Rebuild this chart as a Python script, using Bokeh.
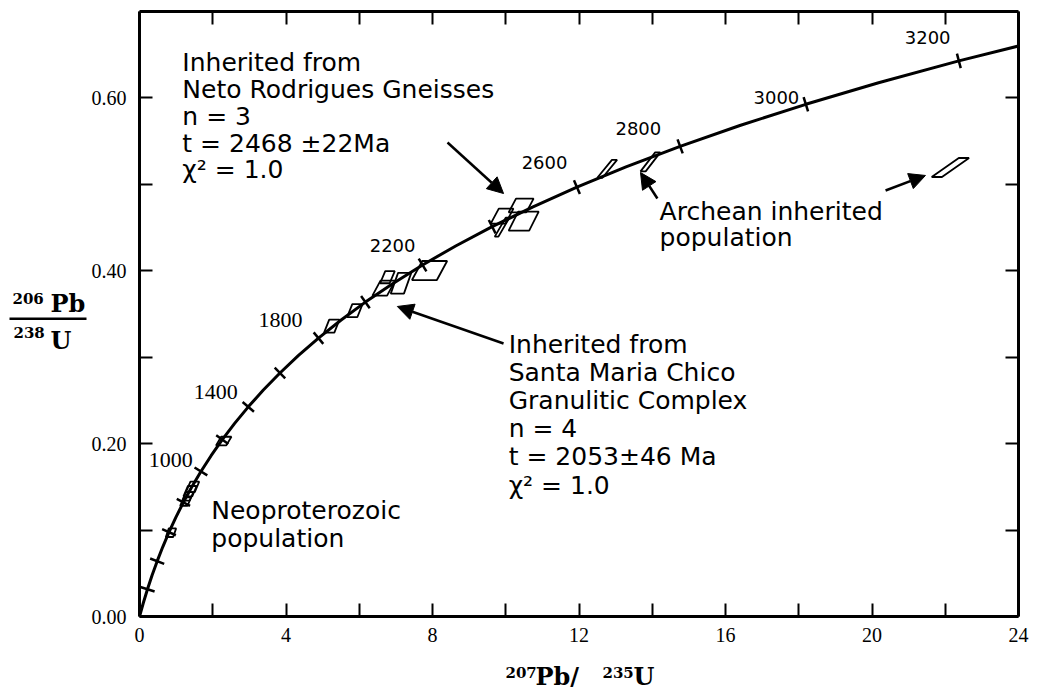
import math
from bokeh.plotting import figure
from bokeh.layouts import row, column
from bokeh.models import (LinearAxis, FixedTicker, Label, Arrow, NormalHead,
                          Range1d, CustomJSTickFormatter)
from bokeh.embed import file_html
from bokeh.resources import INLINE

# ---------------- data ----------------
# concordia curve (age in Ma, 207Pb/235U, 206Pb/238U)
conc_age = [0, 100, 200, 300, 400, 500, 600, 700, 800, 900, 1000, 1100, 1200, 1300,
            1400, 1500, 1600, 1700, 1800, 1900, 2000, 2100, 2200, 2300, 2400, 2500,
            2600, 2700, 2800, 2900, 3000, 3100, 3200, 3300]
conc_x = [0.0, 0.1035, 0.2177, 0.3437, 0.4828, 0.6363, 0.8056, 0.9925, 1.1987, 1.4263,
          1.6774, 1.9545, 2.2604, 2.5977, 2.9702, 3.3810, 3.8348, 4.3348, 4.8866, 5.4962,
          6.1679, 6.9105, 7.7286, 8.6326, 9.6294, 10.7297, 11.9431, 13.2833, 14.7610,
          16.3929, 18.1934, 20.1795, 22.3710, 24.79]
conc_y = [0.0, 0.01563, 0.03151, 0.04764, 0.06402, 0.08065, 0.09754, 0.11470, 0.13213,
          0.14983, 0.16781, 0.18606, 0.20460, 0.22343, 0.24256, 0.26199, 0.28172, 0.30175,
          0.32211, 0.34277, 0.36377, 0.38509, 0.40673, 0.42873, 0.45104, 0.47375, 0.49674,
          0.52019, 0.54396, 0.56810, 0.59262, 0.61751, 0.64282, 0.66848]

tick_ages = [200, 400, 600, 800, 1000, 1200, 1400, 1600, 1800, 2000, 2200, 2400,
             2600, 2800, 3000, 3200]

age_labels = ["1000", "1400", "1800", "2200", "2600", "2800", "3000", "3200"]
age_label_x = [0.85, 2.08, 3.85, 6.91, 11.06, 13.62, 17.39, 21.52]
age_label_y = [0.1805, 0.2592, 0.3425, 0.4293, 0.5253, 0.5646, 0.6005, 0.6699]
age_label_serif = [True, True, True, False, False, False, False, False]

# analyses: centre, half-width, half-height, skew of the error parallelograms
pg_x = [1.26, 1.32, 1.38, 1.45, 0.86, 2.30, 5.25, 5.88, 6.67, 6.77, 7.14, 7.92,
        9.90, 10.42, 10.49, 9.90, 12.77, 13.95, 22.14]
pg_y = [0.133, 0.139, 0.145, 0.150, 0.097, 0.203, 0.336, 0.354, 0.380, 0.3926, 0.3856, 0.4003,
        0.4632, 0.4755, 0.4574, 0.4505, 0.518, 0.526, 0.5195]
pg_hw = [0.10, 0.10, 0.12, 0.12, 0.10, 0.14, 0.14, 0.14, 0.20, 0.13, 0.18, 0.34,
         0.20, 0.24, 0.28, 0.05, 0.07, 0.07, 0.14]
pg_hh = [0.005, 0.005, 0.006, 0.006, 0.005, 0.005, 0.0075, 0.0075, 0.0087, 0.007, 0.012, 0.011,
         0.0087, 0.008, 0.011, 0.011, 0.0104, 0.011, 0.011]
pg_sk = [0.05, 0.05, 0.06, 0.06, 0.04, 0.07, 0.07, 0.07, 0.11, 0.07, 0.10, 0.14,
         0.11, 0.10, 0.13, 0.15, 0.20, 0.20, 0.37]

x_ticks = list(range(0, 25, 2))
y_ticks = [0.0, 0.1, 0.2, 0.3, 0.4, 0.5, 0.6]

block1 = ["Inherited from", "Neto Rodrigues Gneisses", "n = 3", "t = 2468 \u00b122Ma", "\u03c7\u00b2 = 1.0"]
block2 = ["Inherited from", "Santa Maria Chico", "Granulitic Complex", "n = 4",
          "t = 2053\u00b146 Ma", "\u03c7\u00b2 = 1.0"]
block3 = ["Neoproterozoic", "population"]
block4 = ["Archean inherited", "population"]

# ---------------- main figure ----------------
FW, FH = 879, 605
XMAX, YMAX = 24.0, 0.70
LEFTW = 87          # width of the y-title panel
TOPH = 650          # height of the top row
SANS = "DejaVu Sans"
SERIF = "Liberation Serif"
TF = "DejaVu Serif"

p = figure(frame_width=FW, frame_height=FH, x_range=Range1d(0, XMAX), y_range=Range1d(0, YMAX),
           output_backend="svg", toolbar_location=None,
           min_border_left=139 - LEFTW, min_border_right=12, min_border_top=11,
           min_border_bottom=TOPH - 11 - FH,
           background_fill_color="white", border_fill_color="white")
p.outline_line_color = None
p.grid.visible = False


def style_axis(ax, ticks, code, size, standoff):
    ax.ticker = FixedTicker(ticks=ticks)
    ax.formatter = CustomJSTickFormatter(code=code)
    ax.axis_line_width = 3
    ax.axis_line_color = "black"
    ax.major_tick_line_width = 2
    ax.major_tick_line_color = "black"
    ax.major_tick_in = 13
    ax.major_tick_out = 0
    ax.minor_tick_line_color = None
    ax.major_label_text_font = SERIF
    ax.major_label_text_font_size = size
    ax.major_label_text_color = "black"
    ax.major_label_standoff = standoff


xcode = "return (Math.round(tick) % 4 === 0) ? tick.toFixed(0) : '';"
ycode = "var k = Math.round(tick*10); return (k % 2 === 0) ? (k/10).toFixed(2) : '';"
style_axis(p.xaxis[0], x_ticks, xcode, "20px", 11)
style_axis(p.yaxis[0], y_ticks, ycode, "20px", 13)

top = LinearAxis()
style_axis(top, x_ticks, "return '';", "1px", 0)
p.add_layout(top, "above")
right = LinearAxis()
style_axis(right, y_ticks, "return '';", "1px", 0)
p.add_layout(right, "right")

# concordia
p.line(conc_x, conc_y, line_width=3, line_color="black")

sx, sy = FW / XMAX, FH / YMAX
tidx = [conc_age.index(a) for a in tick_ages]
tang = [math.atan2((conc_y[i + 1] - conc_y[i - 1]) * sy, (conc_x[i + 1] - conc_x[i - 1]) * sx) + math.pi / 2
        for i in tidx]
p.scatter([conc_x[i] for i in tidx], [conc_y[i] for i in tidx], marker="dash", size=15,
          angle=tang, line_color="black", line_width=2.5)

# error parallelograms
xs = [[x - w - s, x + w - s, x + w + s, x - w + s] for x, w, s in zip(pg_x, pg_hw, pg_sk)]
ys = [[y - h, y - h, y + h, y + h] for y, h in zip(pg_y, pg_hh)]
p.patches(xs, ys, fill_color=None, line_color="black", line_width=1.8)

# age labels
for t, x, y, serif in zip(age_labels, age_label_x, age_label_y, age_label_serif):
    p.add_layout(Label(x=x, y=y, text=t, text_align="center", text_baseline="middle",
                       text_font=SERIF if serif else SANS,
                       text_font_size="22px" if serif else "18px", text_color="black"))


def text_block(lines, x, ys_):
    for t, y in zip(lines, ys_):
        p.add_layout(Label(x=x, y=y, text=t, text_align="left", text_baseline="alphabetic",
                           text_font=SANS, text_font_size="25px", text_color="black"))


text_block(block1, 1.17, [0.641, 0.610, 0.579, 0.547, 0.517])
text_block(block2, 10.08, [0.3147, 0.2823, 0.2499, 0.2175, 0.1852, 0.1516])
text_block(block3, 1.96, [0.1227, 0.0903])
text_block(block4, 14.2, [0.4683, 0.4386])

# arrows
arrows = [(8.41, 0.5484, 9.94, 0.4894), (9.94, 0.3159, 7.04, 0.3587),
          (14.14, 0.4836, 13.68, 0.5137), (20.37, 0.4929, 21.46, 0.5103)]
for x0, y0, x1, y1 in arrows:
    p.add_layout(Arrow(end=NormalHead(size=16, fill_color="black", line_color="black", line_width=1),
                       x_start=x0, y_start=y0, x_end=x1, y_end=y1,
                       line_width=2.5, line_color="black"))


# ---------------- title panels (pixel coordinates) ----------------
def panel(w, h, y0, y1):
    f = figure(width=w, height=h, x_range=Range1d(0, w), y_range=Range1d(y1, y0),
               output_backend="svg", toolbar_location=None,
               x_axis_location=None, y_axis_location=None,
               min_border=0, min_border_left=0, min_border_right=0,
               min_border_top=0, min_border_bottom=0,
               background_fill_color="white", border_fill_color="white")
    f.outline_line_color = None
    f.grid.visible = False
    return f


def piece(f, t, x, y, size):
    f.add_layout(Label(x=x, y=y, text=t, text_align="left", text_baseline="middle",
                       text_font=TF, text_font_style="bold", text_font_size=size,
                       text_color="black"))


yt = panel(LEFTW, TOPH, 0, TOPH)
piece(yt, "206", 12, 308, "15px")
piece(yt, "Pb", 50, 314, "24px")
piece(yt, "238", 13, 345, "15px")
piece(yt, "U", 50, 353, "24px")
yt.line([9, 86], [330, 330], line_width=2.5, line_color="black")

XH = 40
xt = panel(139 + FW + 12, XH, TOPH, TOPH + XH)
piece(xt, "207", 505, 672, "15px")
piece(xt, "Pb/", 535, 676, "24px")
piece(xt, "235", 602, 672, "15px")
piece(xt, "U", 633, 676, "24px")

layout = column(row(yt, p), xt)
open("out.html", "w").write(file_html(layout, INLINE))
